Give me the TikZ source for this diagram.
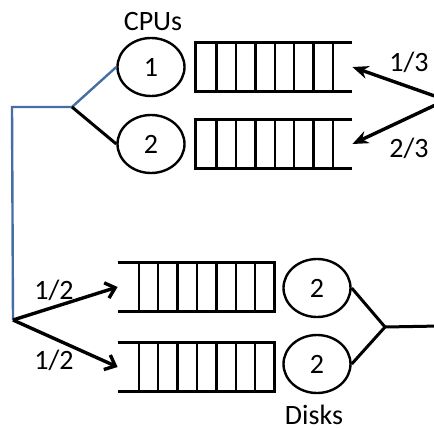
\documentclass[tikz,border=0pt]{standalone}
\usepackage{fontspec}
\setmainfont{Carlito}
\usetikzlibrary{arrows.meta, shapes.geometric}
\definecolor{linkblue}{RGB}{70,110,165}

\begin{document}
\begin{tikzpicture}[x=0.5pt, y=-0.5pt,
  server/.style={draw, ellipse, line width=1.2pt, minimum width=33.5pt,
                 minimum height=29pt, inner sep=0pt,
                 font=\fontsize{14}{16}\selectfont},
  queue/.style={minimum width=78pt, minimum height=24pt, inner sep=0pt},
  qline/.style={line width=1.2pt},
  route/.style={-{Stealth[length=8pt, width=6.5pt]}, line width=1.7pt},
  split/.style={-{Straight Barb[length=4.5pt, width=8pt]}, line width=1.7pt},
  lbl/.style={anchor=base, font=\fontsize{14}{16}\selectfont},
]
  \useasboundingbox (0,0) rectangle (434,429);
  \clip (0,0) rectangle (434,429);

  % Servers
  \node[server] (cpuA) at (151,67) {1};
  \node[server] (cpuB) at (151,144) {2};
  \node[server] (diskA) at (317,288) {2};
  \node[server] (diskB) at (317,364) {2};

  % Queues
  \node[queue] (qcpuA) at (274,67) {};
  \node[queue] (qcpuB) at (274,144) {};
  \node[queue] (qdiskA) at (196,287) {};
  \node[queue] (qdiskB) at (196,367) {};
  \foreach \q in {qcpuA, qcpuB} {
    \draw[qline] (\q.north east) -- (\q.north west) -- (\q.south west) -- (\q.south east);
    \foreach \k in {0,...,6}
      \draw[qline] ([xshift=10.5pt+9.7pt*\k]\q.north west) -- ([xshift=10.5pt+9.7pt*\k]\q.south west);
  }
  \foreach \q in {qdiskA, qdiskB} {
    \draw[qline] (\q.north west) -- (\q.north east) -- (\q.south east) -- (\q.south west);
    \foreach \k in {0,...,6}
      \draw[qline] ([xshift=-9.6pt-9.7pt*\k]\q.north east) -- ([xshift=-9.6pt-9.7pt*\k]\q.south east);
  }

  % Junctions
  \coordinate (jcpu) at (72,107);
  \coordinate (corner) at (12,107);
  \coordinate (fork) at (13,320);
  \coordinate (src) at (446,100);
  \coordinate (jdisk) at (385,327);
  \coordinate (out) at (440,326);

  % Connectors
  \draw[linkblue, line width=1.2pt] (cpuA.west) -- (jcpu) -- (corner) -- (fork);
  \draw[line width=1.5pt] (jcpu) -- (cpuB.west);
  \draw[route] (src) -- (qcpuA.east);
  \draw[route] (src) -- (qcpuB.east);
  \draw[split] (fork) -- (qdiskA.west);
  \draw[split] (fork) -- (qdiskB.west);
  \draw[line width=1.5pt] (diskA.east) -- (jdisk) -- (diskB.east);
  \draw[line width=1.5pt] (jdisk) -- (out);

  % Labels
  \node[lbl] (cpulbl) at (153,30) {CPUs};
  \node[lbl] (disklbl) at (314,424) {Disks};
  \node[lbl] (pA) at (409,71) {1/3};
  \node[lbl] (pB) at (409,157) {2/3};
  \node[lbl] (pC) at (54,299) {1/2};
  \node[lbl] (pD) at (54,369) {1/2};
\end{tikzpicture}
\end{document}
